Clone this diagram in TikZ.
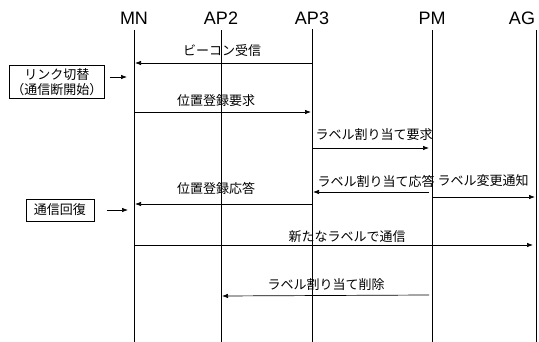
\documentclass[tikz,border=0pt]{standalone}
\usepackage{fontspec}
\setmainfont{Liberation Sans}
\newfontfamily\jp{Noto Sans CJK JP}
\usetikzlibrary{arrows.meta}
\begin{document}
\begin{tikzpicture}[x=1pt,y=-1pt,
  life/.style={line width=0.9pt},
  msg/.style={line width=0.7pt,-{Latex[length=6pt,width=4.5pt]}},
  head/.style={font=\fontsize{18}{18}\selectfont,inner sep=0pt,anchor=center},
  lbl/.style={font=\jp\fontsize{13}{14}\selectfont,inner sep=0pt,anchor=center},
  sbox/.style={draw,line width=0.7pt,font=\jp\fontsize{13}{14.5}\selectfont,align=center,inner sep=2pt,anchor=center}]
\useasboundingbox (0,0) rectangle (539,342);
% headers
\node[head] (hMN) at (134,18) {MN};
\node[head] (hAP2) at (221,18) {AP2};
\node[head] (hAP3) at (312,18) {AP3};
\node[head] (hPM) at (432,18) {PM};
\node[head] (hAG) at (522,18) {AG};
% lifeline ends
\coordinate (mnT) at (134,30); \coordinate (mnB) at (134,342);
\coordinate (ap2T) at (221,30); \coordinate (ap2B) at (221,342);
\coordinate (ap3T) at (312,29); \coordinate (ap3B) at (312,342);
\coordinate (pmT) at (432,30); \coordinate (pmB) at (432,342);
\coordinate (agT) at (536,30); \coordinate (agB) at (536,342);
\draw[life] (mnT) -- (mnB);
\draw[life] (ap2T) -- (ap2B);
\draw[life] (ap3T) -- (ap3B);
\draw[life] (pmT) -- (pmB);
\draw[life] (agT) -- (agB);
% message end points
\coordinate (m1a) at (312,63); \coordinate (m1b) at (135,63);
\coordinate (m2a) at (134,112); \coordinate (m2b) at (311,112);
\coordinate (m3a) at (312,148); \coordinate (m3b) at (429,148);
\coordinate (m4a) at (429,192); \coordinate (m4b) at (313,192);
\coordinate (m5a) at (432,197); \coordinate (m5b) at (535,197);
\coordinate (m6a) at (312,204); \coordinate (m6b) at (135,204);
\coordinate (m7a) at (134,245); \coordinate (m7b) at (533,245);
\coordinate (m8a) at (429,295); \coordinate (m8b) at (222,296);
\draw[msg] (m1a) -- (m1b);
\draw[msg] (m2a) -- (m2b);
\draw[msg] (m3a) -- (m3b);
\draw[msg] (m4a) -- (m4b);
\draw[msg] (m5a) -- (m5b);
\draw[msg] (m6a) -- (m6b);
\draw[msg] (m7a) -- (m7b);
\draw[msg] (m8a) -- (m8b);
% labels
\node[lbl] (l1) at (222,51) {ビーコン受信};
\node[lbl] (l2) at (216,101) {位置登録要求};
\node[lbl] (l3) at (374,135) {ラベル割り当て要求};
\node[lbl] (l4) at (376,181) {ラベル割り当て応答};
\node[lbl] (l5) at (483,181) {ラベル変更通知};
\node[lbl] (l6) at (216,188) {位置登録応答};
\node[lbl] (l7) at (347,237) {新たなラベルで通信};
\node[lbl] (l8) at (326,285) {ラベル割り当て削除};
% side boxes
\node[sbox,minimum width=90pt,minimum height=33pt] (b1) at (57,82) {リンク切替\\（通信断開始）};
\node[sbox,minimum width=68pt,minimum height=22pt] (b2) at (60,210) {通信回復};
\coordinate (a1) at (127,77); \coordinate (a2) at (128,210);
\draw[msg] ([xshift=5pt]b1.east |- a1) -- (a1);
\draw[msg] ([xshift=13pt]b2.east |- a2) -- (a2);
\end{tikzpicture}
\end{document}
